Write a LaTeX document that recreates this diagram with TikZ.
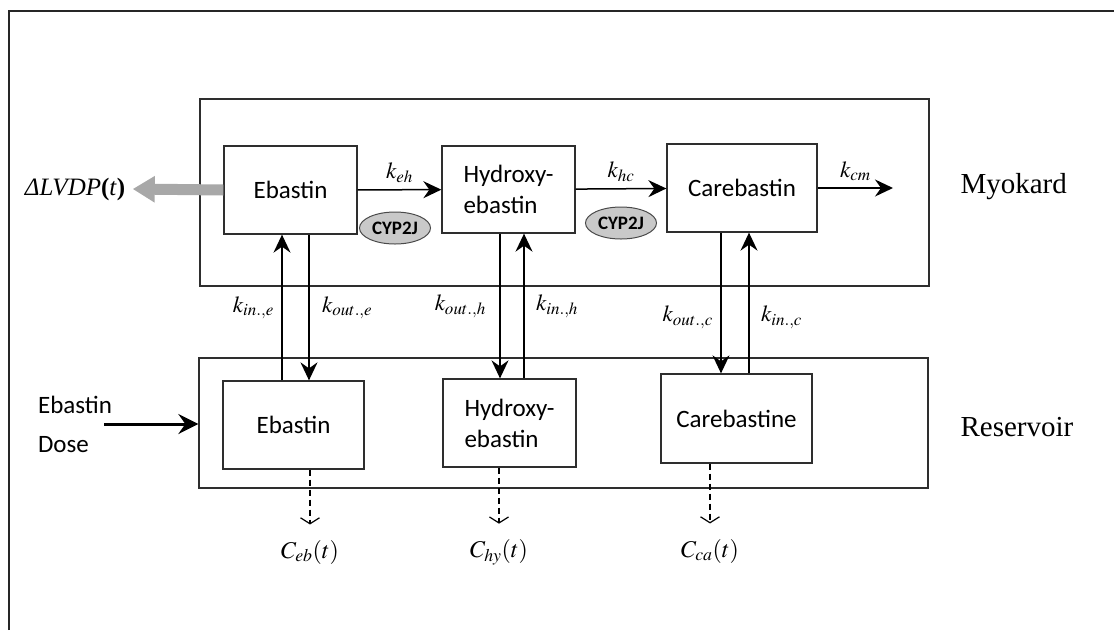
\documentclass[tikz,border=0pt]{standalone}
\usepackage{mathptmx}
\usepackage{fontspec}
\setmainfont{Liberation Serif}
\newfontfamily\calibri{Carlito}
\usetikzlibrary{arrows.meta,shapes.geometric}

\definecolor{boxline}{HTML}{2E2E2E}
\definecolor{cypfill}{HTML}{C9C9C9}
\definecolor{cypline}{HTML}{4A4A4A}
\definecolor{effectgray}{HTML}{A8A8A8}

\tikzset{
	comp/.style={draw=boxline, line width=1.3pt, inner sep=0pt, align=left,
	  font=\calibri\fontsize{25}{31}\selectfont},
	room/.style={draw=boxline, line width=1.3pt, inner sep=0pt},
	flow/.style={line width=1.5pt, -{Stealth[length=18pt,width=17pt,inset=6pt]}},
	leak/.style={line width=1.2pt, dash pattern=on 6pt off 4pt,
	  -{Straight Barb[length=6pt,width=19pt]}},
	ratelabel/.style={font=\fontsize{23}{26}\selectfont},
	conclabel/.style={font=\fontsize{24}{28}\selectfont},
	enzyme/.style={ellipse, draw=cypline, line width=1pt, fill=cypfill,
	  minimum width=71pt, minimum height=32pt, inner sep=0pt,
	  font=\calibri\bfseries\fontsize{19}{22}\selectfont},
	sidelabel/.style={anchor=west, font=\fontsize{29}{33}\selectfont},
}

\begin{document}
\begin{tikzpicture}[x=1pt, y=-1pt]
\useasboundingbox (0,0) rectangle (1114,630);
% the frame of the page, only the top and left edges are seen
\draw[line width=2.2pt, black!85] (9,630) -- (9,11) -- (1114,11);

% two rooms: Myokard on top, Reservoir below
\node[room, minimum width=729pt, minimum height=187pt] (myo) at (564.5,192.5) {};
\node[room, minimum width=729pt, minimum height=130pt] (res) at (563.5,423) {};
\node[sidelabel] (myoname) at (957,187) {Myokard};
\node[sidelabel] (resname) at (957,427) {Reservoir};

% compartments in the myocardium
\node[comp, minimum width=133pt, minimum height=88pt] (ebM) at (290.5,190) {Ebastin};
\node[comp, minimum width=133pt, minimum height=87pt] (hyM) at (508.5,189.5) {Hydroxy-\\ebastin};
\node[comp, minimum width=150pt, minimum height=88pt] (caM) at (742,188) {Carebastin};

% compartments in the reservoir
\node[comp, minimum width=141pt, minimum height=88pt] (ebR) at (293.5,425) {Ebastin};
\node[comp, minimum width=133pt, minimum height=88pt] (hyR) at (509.5,423) {Hydroxy-\\ebastin};
\node[comp, minimum width=151pt, minimum height=89pt] (caR) at (736.5,418.5) {Carebastine};

% metabolism by CYP2J
\node[enzyme] (cyp1) at (395,228) {CYP2J};
\node[enzyme] (cyp2) at (621,223) {CYP2J};
\draw[flow] (ebM) -- node[ratelabel, above=3pt] {$k_{eh}$} (hyM);
\draw[flow] (hyM) -- node[ratelabel, above=3pt] {$k_{hc}$} (caM);
\coordinate (elim) at (893,188);
\draw[flow] (caM) -- node[ratelabel, above=3pt] {$k_{cm}$} (elim);

% effect on the left ventricle
\node[font=\fontsize{25}{28}\selectfont] (lvdp) at (75,189) {\textit{ΔLVDP}\textbf{(}\textit{t}\textbf{)}};
\draw[draw=effectgray, line width=11pt, -{Triangle[length=22pt,width=25pt]}, effectgray]
  (ebM.west) -- ([xshift=4pt]lvdp.east);

% exchange between reservoir and myocardium
\draw[flow] (282,0 |- ebR.north) -- node[ratelabel, left=4pt] {$k_{in.{,}e}$} (282,0 |- ebM.south);
\draw[flow] (309,0 |- ebM.south) -- node[ratelabel, right=9pt] {$k_{out.{,}e}$} (309,0 |- ebR.north);
\draw[flow] (500,0 |- hyM.south) -- node[ratelabel, left=10pt] {$k_{out.{,}h}$} (500,0 |- hyR.north);
\draw[flow] (524,0 |- hyR.north) -- node[ratelabel, right=8pt] {$k_{in.{,}h}$} (524,0 |- hyM.south);
\draw[flow] (721,0 |- caM.south) -- node[ratelabel, pos=0.6, left=4pt] {$k_{out.{,}c}$} (721,0 |- caR.north);
\draw[flow] (749,0 |- caR.north) -- node[ratelabel, pos=0.4, right=8pt] {$k_{in.{,}c}$} (749,0 |- caM.south);

% dose goes into the reservoir
\node[font=\calibri\fontsize{25}{39}\selectfont, align=left] (dose) at (75,424) {Ebastin\\Dose};
\draw[line width=3pt, -{Stealth[length=20pt,width=20pt,inset=7pt]}]
  ([xshift=-11pt]dose.east) -- (res.west |- dose.east);

% measured concentrations
\node[conclabel] (ceb) at (310,552) {$C_{eb}(t)$};
\node[conclabel] (chy) at (499,552) {$C_{hy}(t)$};
\node[conclabel] (cca) at (710,551) {$C_{ca}(t)$};
\draw[leak, shorten >=12pt] (ceb |- ebR.south) -- (ceb.north);
\draw[leak, shorten >=12pt] (chy |- hyR.south) -- (chy.north);
\draw[leak, shorten >=12pt] (cca |- caR.south) -- (cca.north);
\end{tikzpicture}
\end{document}
